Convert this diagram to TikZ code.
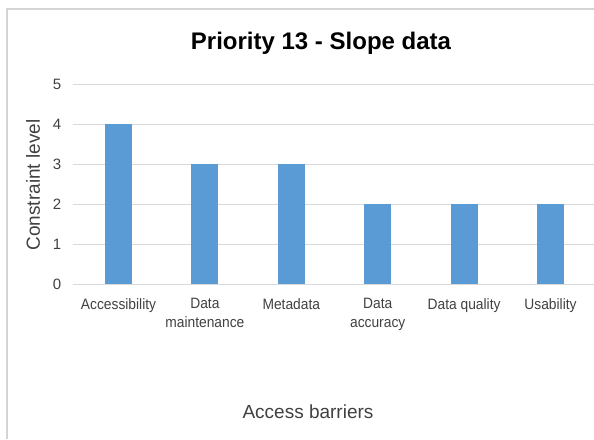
\documentclass[tikz,border=0pt]{standalone}
\usepackage{fontspec}
\setmainfont{Liberation Sans}
\definecolor{barblue}{HTML}{5B9BD5}
\definecolor{gridgray}{HTML}{D9D9D9}
\definecolor{framegray}{HTML}{D4D4D4}
\definecolor{labelgray}{HTML}{404040}
\tikzset{
  ticklab/.style={text=labelgray,font=\fontsize{15}{19}\selectfont,inner sep=0pt},
  catlab/.style={text=labelgray,font=\fontsize{15}{19}\selectfont,align=center,anchor=north,inner sep=0pt,xscale=.92},
  axtitle/.style={text=labelgray,font=\fontsize{19}{22}\selectfont,inner sep=0pt},
  barfill/.style={fill=barblue,draw=none}
}
\begin{document}
\begin{tikzpicture}[x=1pt,y=-1pt,line join=round]
			\useasboundingbox (0,0) rectangle (594,439);
			\def\xl{73} \def\xr{594}
			\def\yz{284} \def\unit{40}
			% chart frame
			\draw[framegray,line width=2pt] (7,439)--(7,9)--(594,9);
			\node (title) at (321,43) {\fontsize{24}{28}\selectfont\bfseries Priority 13 - Slope data};
			% grid and y ticks
			\foreach \k in {0,...,5}{
				\draw[gridgray,line width=1pt] (\xl,\yz-\unit*\k)--(\xr,\yz-\unit*\k);
				\node[ticklab] (tick\k) at (57,\yz-\unit*\k) {\k};
			}
			% bars
			\foreach \i/\v/\lab in {0/4/{Accessibility},1/3/{Data\\maintenance},2/3/{Metadata},3/2/{Data\\accuracy},4/2/{Data quality},5/2/{Usability}}{
				\fill[barfill] (105+86.4*\i,\yz) rectangle (132+86.4*\i,\yz-\unit*\v);
				\node[catlab] (cat\i) at (118.5+86.4*\i,298) {\lab};
			}
			\node[axtitle,rotate=90] (ytitle) at (33,185) {Constraint level};
			\node[axtitle] (xtitle) at (308,412) {Access barriers};
	\end{tikzpicture}
\end{document}
